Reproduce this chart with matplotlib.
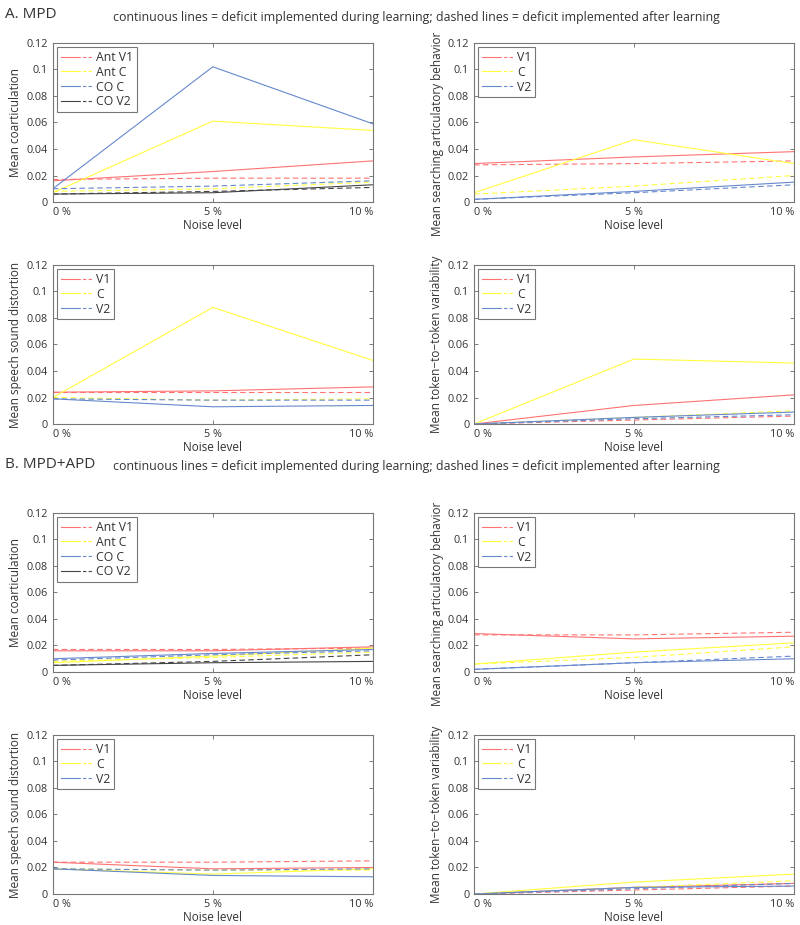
import matplotlib
matplotlib.use('Agg')
import matplotlib.pyplot as plt
from matplotlib.lines import Line2D
from matplotlib.legend_handler import HandlerTuple

plt.rcParams['font.family'] = ['Open Sans', 'DejaVu Sans']

noise = [0, 5, 10]
noise_labels = ['0 %', '5 %', '10 %']

red = '#ff7272'
yellow = '#ffff40'
blue = '#6688cc'
dark = '#444444'

# ---- A. MPD ----
# coarticulation: (solid = during learning, dashed = after learning)
a_coart_names = ['Ant V1', 'Ant C', 'CO C', 'CO V2']
a_coart_solid = [[0.016, 0.023, 0.031], [0.007, 0.061, 0.054],
                 [0.010, 0.102, 0.059], [0.006, 0.007, 0.013]]
a_coart_dash = [[0.017, 0.018, 0.018], [0.008, 0.010, 0.015],
                [0.010, 0.012, 0.016], [0.006, 0.008, 0.011]]

a_search_solid = [[0.029, 0.034, 0.038], [0.007, 0.047, 0.029], [0.002, 0.008, 0.015]]
a_search_dash = [[0.028, 0.029, 0.031], [0.006, 0.012, 0.020], [0.002, 0.007, 0.013]]

a_dist_solid = [[0.024, 0.025, 0.028], [0.020, 0.088, 0.048], [0.019, 0.013, 0.014]]
a_dist_dash = [[0.024, 0.024, 0.024], [0.020, 0.018, 0.019], [0.019, 0.018, 0.018]]

a_var_solid = [[0.0, 0.014, 0.022], [0.0, 0.049, 0.046], [0.0, 0.005, 0.009]]
a_var_dash = [[0.0, 0.003, 0.006], [0.0, 0.005, 0.010], [0.0, 0.004, 0.007]]

# ---- B. MPD+APD ----
b_coart_solid = [[0.016, 0.016, 0.019], [0.007, 0.012, 0.018],
                 [0.010, 0.014, 0.017], [0.005, 0.007, 0.008]]
b_coart_dash = [[0.017, 0.017, 0.018], [0.008, 0.011, 0.015],
                [0.009, 0.013, 0.016], [0.005, 0.008, 0.013]]

b_search_solid = [[0.029, 0.025, 0.027], [0.006, 0.015, 0.022], [0.002, 0.007, 0.010]]
b_search_dash = [[0.028, 0.028, 0.030], [0.006, 0.011, 0.019], [0.002, 0.007, 0.012]]

b_dist_solid = [[0.024, 0.019, 0.020], [0.019, 0.015, 0.019], [0.019, 0.014, 0.013]]
b_dist_dash = [[0.024, 0.024, 0.025], [0.019, 0.018, 0.018], [0.019, 0.018, 0.019]]

b_var_solid = [[0.0, 0.005, 0.008], [0.0, 0.009, 0.015], [0.0, 0.005, 0.006]]
b_var_dash = [[0.0, 0.003, 0.006], [0.0, 0.005, 0.010], [0.0, 0.004, 0.008]]

seg_names = ['V1', 'C', 'V2']
coart_colors = [red, yellow, blue, dark]
seg_colors = [red, yellow, blue]

subtitle = 'continuous lines = deficit implemented during learning; dashed lines = deficit implemented after learning'
txt = '#333333'


def panel(rect, solid, dash, names, colors, ylabel):
    ax = fig.add_axes(rect)
    handles = []
    for s, d, c in zip(solid, dash, colors):
        ax.plot(noise, s, '-', color=c, lw=0.8)
        ax.plot(noise, d, '--', color=c, lw=0.8, dashes=(5, 3))
        h1 = Line2D([], [], color=c, lw=0.8)
        h2 = Line2D([], [], color=c, lw=0.8, ls='--', dashes=(3, 2))
        handles.append((h1, h2))
    ax.set_xlim(0, 10)
    ax.set_ylim(0, 0.12)
    ax.set_yticks([0, 0.02, 0.04, 0.06, 0.08, 0.1, 0.12])
    ax.set_yticklabels(['0', '0.02', '0.04', '0.06', '0.08', '0.1', '0.12'])
    ax.set_xticks(noise)
    ax.set_xticklabels(noise_labels)
    labs = ax.get_xticklabels()
    labs[0].set_ha('left')
    labs[2].set_ha('right')
    ax.tick_params(direction='in', top=True, right=True, length=3,
                   labelsize=7.8, colors='#666666', labelcolor=txt, width=0.6)
    for sp in ax.spines.values():
        sp.set_color('#777777')
        sp.set_linewidth(0.8)
    ax.set_xlabel('Noise level', fontsize=8.5, color=txt, labelpad=1)
    ax.set_ylabel(ylabel, fontsize=8.5, color=txt, labelpad=3)
    leg = ax.legend(handles, names, loc='upper left', fontsize=8.8,
                    handler_map={tuple: HandlerTuple(ndivide=2, pad=0.0)},
                    handlelength=2.6, handletextpad=0.3, labelspacing=0.15,
                    borderpad=0.3, borderaxespad=0.35, fancybox=False,
                    edgecolor='#777777', framealpha=1)
    leg.get_frame().set_linewidth(0.8)
    for t in leg.get_texts():
        t.set_color(txt)
    return ax


fig = plt.figure(figsize=(8, 9.25), dpi=100)

lx, rx, w, h = 0.066, 0.5925, 0.4, 0.172
rows = [0.7816, 0.5416, 0.2735, 0.0335]

panel([lx, rows[0], w, h], a_coart_solid, a_coart_dash, a_coart_names, coart_colors, 'Mean coarticulation')
ax_s1 = panel([rx, rows[0], w, h], a_search_solid, a_search_dash, seg_names, seg_colors, 'Mean searching articulatory behavior')
panel([lx, rows[1], w, h], a_dist_solid, a_dist_dash, seg_names, seg_colors, 'Mean speech sound distortion')
panel([rx, rows[1], w, h], a_var_solid, a_var_dash, seg_names, seg_colors, 'Mean token\u2212to\u2212token variability')

panel([lx, rows[2], w, h], b_coart_solid, b_coart_dash, a_coart_names, coart_colors, 'Mean coarticulation')
ax_s2 = panel([rx, rows[2], w, h], b_search_solid, b_search_dash, seg_names, seg_colors, 'Mean searching articulatory behavior')
panel([lx, rows[3], w, h], b_dist_solid, b_dist_dash, seg_names, seg_colors, 'Mean speech sound distortion')
panel([rx, rows[3], w, h], b_var_solid, b_var_dash, seg_names, seg_colors, 'Mean token\u2212to\u2212token variability')

# the long label sits a little lower in the original
for ax in (ax_s1, ax_s2):
    ax.yaxis.set_label_coords(-0.095, 0.43)

fig.text(0.006, 1 - 14 / 925, 'A. MPD', fontsize=11, color=txt, va='center')
fig.text(0.52, 1 - 17 / 925, subtitle, fontsize=8.9, color=txt, ha='center', va='center')
fig.text(0.006, 1 - 464 / 925, 'B. MPD+APD', fontsize=11, color=txt, va='center')
fig.text(0.52, 1 - 467 / 925, subtitle, fontsize=8.9, color=txt, ha='center', va='center')

fig.savefig('out.png', dpi=100)
